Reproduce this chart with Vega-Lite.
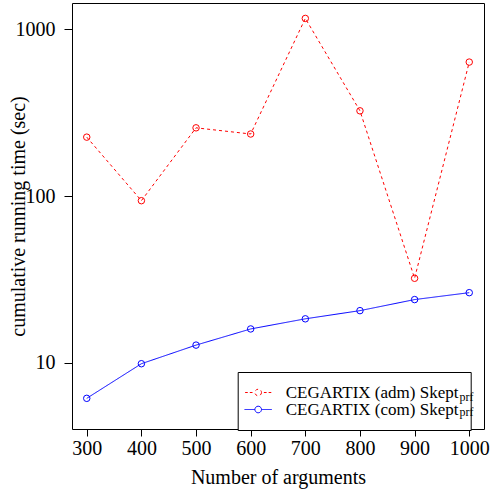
{
  "$schema": "https://vega.github.io/schema/vega-lite/v6.json",
  "width": 412,
  "height": 426,
  "autosize": {"type": "none"},
  "padding": {"left": 72, "top": 3, "right": 7, "bottom": 62},
  "background": "white",
  "config": {"view": {"stroke": "black", "strokeWidth": 1}, "font": "Liberation Serif"},
  "data": {"values": [
    {"n": 300, "time": 226, "solver": "adm"},
    {"n": 400, "time": 94, "solver": "adm"},
    {"n": 500, "time": 257, "solver": "adm"},
    {"n": 600, "time": 236, "solver": "adm"},
    {"n": 700, "time": 1164, "solver": "adm"},
    {"n": 800, "time": 325, "solver": "adm"},
    {"n": 900, "time": 32.2, "solver": "adm"},
    {"n": 1000, "time": 637, "solver": "adm"},
    {"n": 300, "time": 6.14, "solver": "com"},
    {"n": 400, "time": 9.9, "solver": "com"},
    {"n": 500, "time": 12.8, "solver": "com"},
    {"n": 600, "time": 16.0, "solver": "com"},
    {"n": 700, "time": 18.4, "solver": "com"},
    {"n": 800, "time": 20.6, "solver": "com"},
    {"n": 900, "time": 24.0, "solver": "com"},
    {"n": 1000, "time": 26.4, "solver": "com"}
  ]},
  "encoding": {
    "x": {
      "field": "n", "type": "quantitative",
      "scale": {"domain": [273, 1027], "nice": false, "zero": false},
      "axis": {
        "values": [300, 400, 500, 600, 700, 800, 900, 1000],
        "title": "Number of arguments", "grid": false, "domain": false,
        "tickColor": "black", "tickSize": 7, "tickWidth": 1,
        "labelFont": "Liberation Serif", "labelFontSize": 20, "labelColor": "black",
        "labelPadding": 2, "labelFlush": false, "labelOverlap": false, "format": "d",
        "titleFont": "Liberation Serif", "titleFontSize": 20, "titleFontWeight": "normal",
        "titleColor": "black", "titlePadding": 9
      }
    },
    "y": {
      "field": "time", "type": "quantitative",
      "scale": {"type": "log", "domain": [4.02, 1440], "nice": false},
      "axis": {
        "values": [10, 100, 1000], "format": "d",
        "title": "cumulative running time (sec)", "grid": false, "domain": false,
        "tickColor": "black", "tickSize": 8, "tickWidth": 1,
        "labelFont": "Liberation Serif", "labelFontSize": 20, "labelColor": "black",
        "labelPadding": 9, "labelFlush": false, "labelOverlap": false,
        "titleFont": "Liberation Serif", "titleFontSize": 20, "titleFontWeight": "normal",
        "titleColor": "black", "titlePadding": -13
      }
    },
    "color": {
      "field": "solver", "type": "nominal",
      "scale": {"domain": ["adm", "com"], "range": ["#ff0000", "#0000ff"]},
      "legend": {
        "orient": "none", "legendX": 165.7, "legendY": 369, "title": null,
        "direction": "vertical", "strokeColor": "black", "fillColor": "white",
        "padding": 12, "labelFont": "Liberation Serif", "labelFontSize": 17,
        "labelColor": "black", "labelLimit": 0, "symbolSize": 196, "symbolStrokeWidth": 1,
        "symbolFillColor": "transparent", "labelOffset": 19, "rowPadding": -5,
        "labelExpr": "'CEGARTIX (' + datum.label + ') Skept    '",
        "encode": {"symbols": {"update": {
          "shape": {"signal": "datum.value === 'adm' ? 'M-1.87,0H-1.49M-1.2,0H-0.81M0.81,0H1.2M1.49,0H1.87M0.47,0A0.47,0.47,0,1,1,-0.47,0A0.47,0.47,0,1,1,0.47,0' : 'M-1.95,0H-0.47M0.47,0H1.95M0.47,0A0.47,0.47,0,1,1,-0.47,0A0.47,0.47,0,1,1,0.47,0'"},
          "fill": {"value": "transparent"}
        }}}
      }
    }
  },
  "layer": [
    {
      "mark": {"type": "line", "strokeWidth": 1},
      "encoding": {
        "strokeDash": {
          "field": "solver", "type": "nominal",
          "scale": {"domain": ["adm", "com"], "range": [[3, 3], [1, 0]]},
          "legend": null
        }
      }
    },
    {
      "mark": {"type": "point", "filled": false, "size": 42, "strokeWidth": 1, "opacity": 1},
      "encoding": {
        "shape": {
          "field": "solver", "type": "nominal",
          "scale": {"range": ["circle", "circle"]},
          "legend": {
            "orient": "none", "legendX": 371.5, "legendY": 385.5, "title": null,
            "direction": "vertical", "padding": 0, "zindex": 2,
            "labelFont": "Liberation Serif", "labelFontSize": 12, "labelColor": "black",
            "symbolSize": 196, "symbolOpacity": 0, "symbolStrokeColor": "transparent",
            "labelOffset": 0, "rowPadding": 0, "labelLimit": 0,
            "labelExpr": "'prf'"
          }
        }
      }
    }
  ]
}
